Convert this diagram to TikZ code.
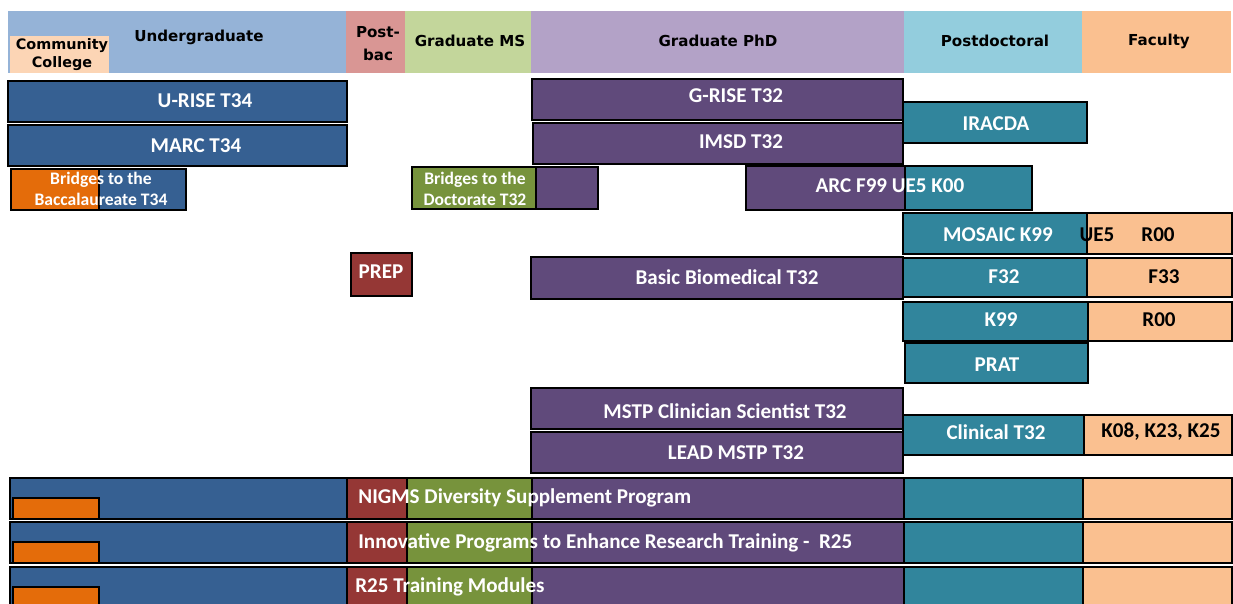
\documentclass[tikz,border=0pt]{standalone}
\usepackage{fontspec}
\setmainfont{Carlito}
\newfontfamily\headfont{DejaVu Sans}
\usepackage{tikz}

\definecolor{ugradhd}{HTML}{95B3D7}
\definecolor{postbachd}{HTML}{D99694}
\definecolor{mshd}{HTML}{C3D69B}
\definecolor{phdhd}{HTML}{B3A2C7}
\definecolor{postdochd}{HTML}{93CDDD}
\definecolor{facultyhd}{HTML}{FAC090}
\definecolor{cchd}{HTML}{FCD5B5}
\definecolor{ugradbar}{HTML}{366092}
\definecolor{ccbar}{HTML}{E46C0A}
\definecolor{postbacbar}{HTML}{953735}
\definecolor{msbar}{HTML}{77933C}
\definecolor{phdbar}{HTML}{604A7B}
\definecolor{postdocbar}{HTML}{31859C}
\definecolor{facultybar}{HTML}{FAC090}

\tikzset{
	lbl/.style={text=white, inner sep=0pt, font=\bfseries\fontsize{12}{13}\selectfont},
	dark lbl/.style={lbl, text=black},
	small lbl/.style={lbl, align=center, font=\bfseries\fontsize{10}{11.9}\selectfont},
	hdr/.style={inner sep=0pt, align=center, font=\headfont\bfseries\fontsize{8.6}{13}\selectfont},
	cc hdr/.style={hdr, font=\headfont\bfseries\fontsize{8.2}{10.2}\selectfont}
}
\def\progbar[#1](#2,#3)(#4,#5){\draw[#1, line width=0.35mm] (#2,#3) rectangle (#4,#5);}

\begin{document}
\begin{tikzpicture}[x=0.02cm, y=-0.02cm]
		%%%%% START %%%%%
		\useasboundingbox (0,0) rectangle (1233,604);
		\clip (0,0) rectangle (1233,604);
		
		% career stages
		\fill[ugradhd] (8,11) rectangle (346,73);
		\fill[postbachd] (346,11) rectangle (405,73);
		\fill[mshd] (405,11) rectangle (531,73);
		\fill[phdhd] (531,11) rectangle (904,73);
		\fill[postdochd] (904,11) rectangle (1082,73);
		\fill[facultyhd] (1082,11) rectangle (1231,73);
		\fill[cchd] (10,36) rectangle (109,73);
		
		\node[hdr] (ugrad) at (199,37) {Undergraduate};
		\node[hdr] (postbac) at (378,44) {Post-\\bac};
		\node[hdr] (gradms) at (470,41) {Graduate MS};
		\node[hdr] (gradphd) at (718,41) {Graduate PhD};
		\node[hdr] (postdoc) at (995,41) {Postdoctoral};
		\node[hdr] (faculty) at (1159,41) {Faculty};
		\node[cc hdr] (commcoll) at (62,55) {Community\\College};
		
		% undergraduate programs
		\progbar[fill=ugradbar](8,81)(347,122)
		\progbar[fill=ugradbar](8,125)(347,166)
		\progbar[fill=ccbar](11,169)(99,210)
		\progbar[fill=ugradbar](99,169)(186,210)
		
		% graduate programs
		\progbar[fill=msbar](412,167)(536,209)
		\progbar[fill=phdbar](536,167)(598,209)
		\progbar[fill=phdbar](532,79)(903,120)
		\progbar[fill=phdbar](533,123)(903,164)
		\progbar[fill=postdocbar](903,102)(1087,143)
		\progbar[fill=phdbar](746,166)(905,210)
		\progbar[fill=postdocbar](905,166)(1032,210)
		\progbar[fill=postbacbar](351,253)(412,296)
		\progbar[fill=phdbar](531,257)(903,299)
		\progbar[fill=phdbar](531,388)(903,429)
		\progbar[fill=phdbar](531,432)(903,473)
		
		% postdoc and faculty programs
		\progbar[fill=postdocbar](903,213)(1087,254)
		\progbar[fill=facultybar](1087,213)(1232,254)
		\progbar[fill=postdocbar](903,258)(1087,297)
		\progbar[fill=facultybar](1087,258)(1232,297)
		\progbar[fill=postdocbar](903,302)(1088,341)
		\progbar[fill=facultybar](1088,302)(1232,341)
		\progbar[fill=postdocbar](905,343)(1088,383)
		\progbar[fill=postdocbar](903,415)(1084,455)
		\progbar[fill=facultybar](1084,415)(1232,455)
		
		% programs across all stages
		\foreach \yt in {478,522,567}{
			\progbar[fill=ugradbar](10,\yt)(347,\yt+41)
			\progbar[fill=ccbar](13,\yt+20)(99,\yt+41)
			\progbar[fill=postbacbar](347,\yt)(407,\yt+41)
			\progbar[fill=msbar](407,\yt)(532,\yt+41)
			\progbar[fill=phdbar](532,\yt)(904,\yt+41)
			\progbar[fill=postdocbar](904,\yt)(1083,\yt+41)
			\progbar[fill=facultybar](1083,\yt)(1232,\yt+41)
		}
		
		% labels
		\node[lbl] (urise) at (205,101) {U-RISE T34};
		\node[lbl] (marc) at (196,146) {MARC T34};
		\node[small lbl] (bridgesbacc) at (101,189) {Bridges to the\\Baccalaureate T34};
		\node[small lbl] (bridgesdoc) at (475,189) {Bridges to the\\Doctorate T32};
		\node[lbl] (grise) at (736,96) {G-RISE T32};
		\node[lbl] (imsd) at (741,142) {IMSD T32};
		\node[lbl] (iracda) at (996,124) {IRACDA};
		\node[lbl] (arc) at (890,186) {ARC F99 UE5 K00};
		\node[lbl] (mosaic) at (998,235) {MOSAIC K99};
		\node[dark lbl] (mosaicue) at (1097,235) {UE5};
		\node[dark lbl] (mosaicr) at (1158,235) {R00};
		\node[lbl] (prep) at (381,272) {PREP};
		\node[lbl] (biomed) at (727,277) {Basic Biomedical T32};
		\node[lbl] (ffellow) at (1004,277) {F32};
		\node[dark lbl] (fsenior) at (1164,277) {F33};
		\node[lbl] (kaward) at (1001,320) {K99};
		\node[dark lbl] (raward) at (1159,320) {R00};
		\node[lbl] (prat) at (997,365) {PRAT};
		\node[lbl] (mstp) at (725,411) {MSTP Clinician Scientist T32};
		\node[lbl] (leadmstp) at (736,453) {LEAD MSTP T32};
		\node[lbl] (clinical) at (996,432) {Clinical T32};
		\node[dark lbl] (kclinical) at (1161,432) {K08, K23, K25};
		\node[lbl, anchor=west] (nigms) at (358,498) {NIGMS Diversity Supplement Program};
		\node[lbl, anchor=west] (ipert) at (358,543) {Innovative Programs to Enhance Research Training -\ \ R25};
		\node[lbl, anchor=west] (modules) at (355,587) {R25 Training Modules};
		
		%%%%% END %%%%%
\end{tikzpicture}
\end{document}
